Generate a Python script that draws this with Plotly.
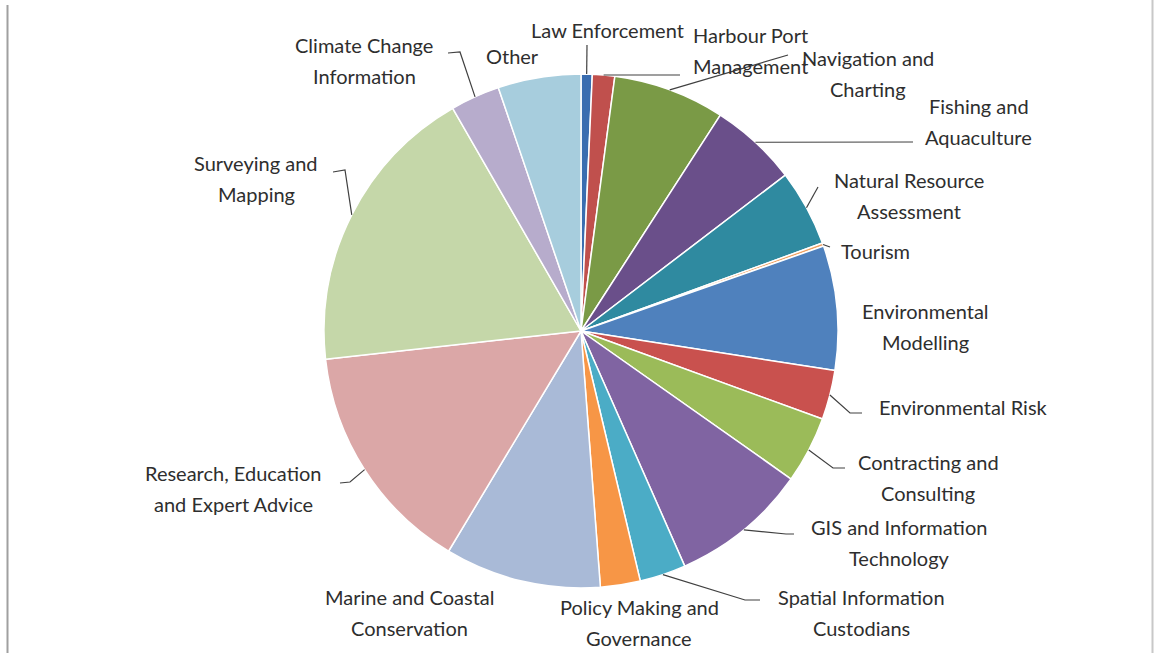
import math
import plotly.graph_objects as go

W, H = 1154, 653

categories = [
    "Law Enforcement", "Harbour Port Management", "Navigation and Charting",
    "Fishing and Aquaculture", "Natural Resource Assessment", "Tourism",
    "Environmental Modelling", "Environmental Risk", "Contracting and Consulting",
    "GIS and Information Technology", "Spatial Information Custodians",
    "Policy Making and Governance", "Marine and Coastal Conservation",
    "Research, Education and Expert Advice", "Surveying and Mapping",
    "Climate Change Information", "Other",
]
values = [0.7, 1.4, 7.0, 5.5, 4.8, 0.2, 7.8, 3.1, 4.2, 8.6, 2.9, 2.5, 9.8, 14.6, 18.4, 3.1, 5.2]
colors = [
    "#3A6DB0", "#C0504D", "#7A9A46", "#6A4F8A", "#2F8AA0", "#F0A060",
    "#4F81BD", "#C9514E", "#9BBB59", "#8064A2", "#4BACC6", "#F79646",
    "#A9BAD7", "#DBA7A7", "#C5D7A9", "#B7ACCC", "#A7CDDD",
]
# label text lines
label_lines = [
    ["Law Enforcement"], ["Harbour Port", "Management"], ["Navigation and", "Charting"],
    ["Fishing and", "Aquaculture"], ["Natural Resource", "Assessment"], ["Tourism"],
    ["Environmental", "Modelling"], ["Environmental Risk"], ["Contracting and", "Consulting"],
    ["GIS and Information", "Technology"], ["Spatial Information", "Custodians"],
    ["Policy Making and", "Governance"], ["Marine and Coastal", "Conservation"],
    ["Research, Education", "and Expert Advice"], ["Surveying and", "Mapping"],
    ["Climate Change", "Information"], ["Other"],
]
# label centre (pixel) of first line
label_pos = [
    (607, 30), (750, 35), (868, 58), (979, 106), (909, 180), (875, 251),
    (925, 311), (963, 407), (928, 462), (899, 527), (861, 597), (639, 607),
    (409, 597), (233, 473), (256, 163), (364, 45), (512, 56),
]
# leader-line vertices after the slice edge point (pixel); empty = no leader
leaders = [
    [(587, 45)], [(680, 75)], [(788, 55)], [(913, 142)], [(818, 187)], [(830, 247)],
    [], [(850, 413), (862, 413)], [(833, 468), (845, 468)], [(786, 534), (794, 534)],
    [(745, 600), (760, 600)], [], [],
    [(350, 482), (340, 483)], [(345, 170), (333, 172)], [(460, 52), (448, 53)], [],
]

CX, CY, R = 581, 331, 257


def px(x, y):
    return x / W, 1 - y / H


fig = go.Figure(go.Pie(
    labels=categories, values=values, sort=False, direction="clockwise", rotation=0,
    marker=dict(colors=colors, line=dict(color="white", width=1.5)),
    textinfo="none", hoverinfo="label+percent", showlegend=False,
    domain=dict(x=[(CX - R) / W, (CX + R) / W], y=[(H - CY - R) / H, (H - CY + R) / H]),
))

total = sum(values)
cum = 0.0
shapes = []
annotations = []
for i, v in enumerate(values):
    mid = (cum + v / 2) / total * 2 * math.pi
    cum += v
    sx, sy = CX + R * math.sin(mid), CY - R * math.cos(mid)
    if leaders[i]:
        pts = [(sx, sy)] + leaders[i]
        path = "M " + " L ".join("%.5f,%.5f" % px(x, y) for x, y in pts)
        shapes.append(dict(type="path", path=path, xref="paper", yref="paper",
                           line=dict(color="#404040", width=1.2)))
    lx, ly = label_pos[i]
    for j, t in enumerate(label_lines[i]):
        x, y = px(lx, ly + 31 * j)
        annotations.append(dict(text=t, x=x, y=y, xref="paper", yref="paper",
                                showarrow=False, xanchor="center", yanchor="middle",
                                font=dict(family="Lato", size=20, color="#2E2E2E")))

# frame lines of the picture
shapes.append(dict(type="line", xref="paper", yref="paper", x0=7.5 / W, x1=7.5 / W,
                   y0=0, y1=1 - 5 / H, line=dict(color="#A0A0A0", width=2)))
shapes.append(dict(type="line", xref="paper", yref="paper", x0=1152.5 / W, x1=1152.5 / W,
                   y0=0, y1=1, line=dict(color="#C8C8C8", width=2)))

fig.update_layout(
    width=W, height=H, margin=dict(l=0, r=0, t=0, b=0),
    paper_bgcolor="white", plot_bgcolor="white",
    shapes=shapes, annotations=annotations,
)
fig.write_html(
    "out.html",
    config={"displayModeBar": False},
    post_script="document.body.style.margin='0';document.body.style.padding='0';"
                "document.body.style.overflow='hidden';",
)
